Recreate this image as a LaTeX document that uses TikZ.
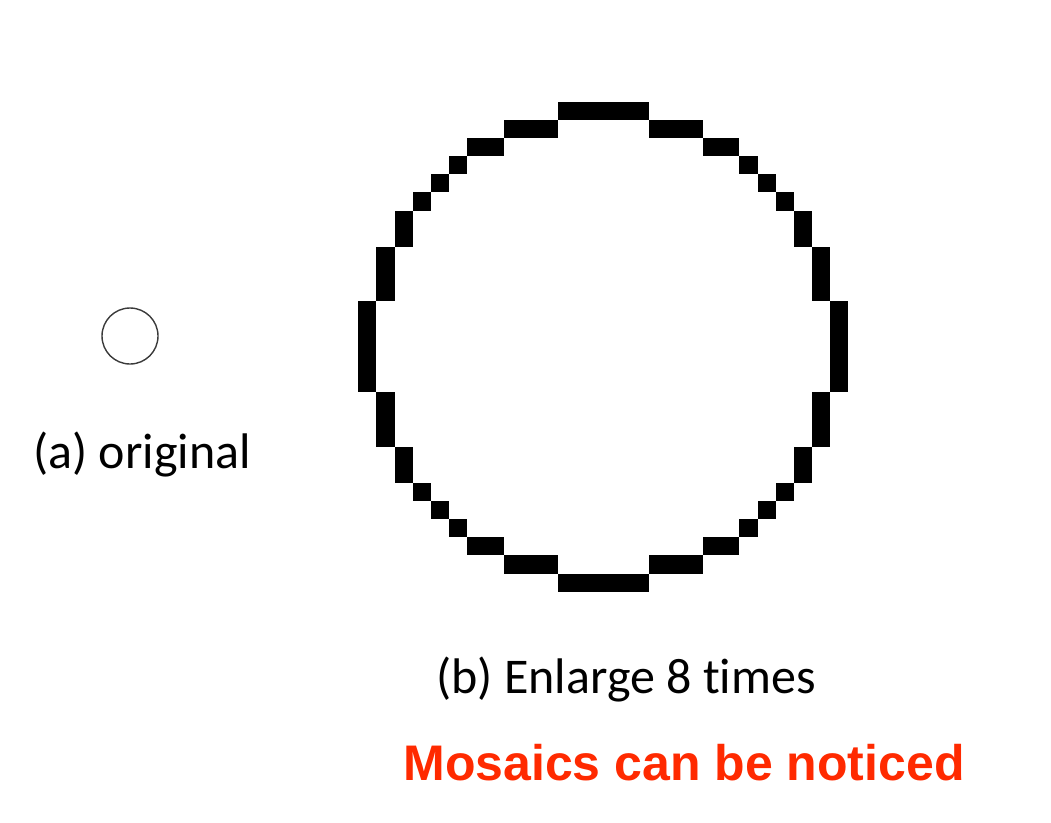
\documentclass[tikz,border=0pt]{standalone}
\usepackage{fontspec}
\setmainfont{Carlito}[Ligatures=NoCommon]
\newfontfamily\arialfont{Liberation Sans}
\usepackage{xcolor}
\definecolor{mosRed}{HTML}{FF2A00}
\definecolor{ringGray}{HTML}{3A3A3A}

\begin{document}
\begin{tikzpicture}[x=1pt,y=-1pt]
\useasboundingbox (0,0) rectangle (1051,822);
\fill[white] (0,0) rectangle (1051,822);
\def\fs{\fontsize{50}{60}\selectfont}
% original circle
\draw[ringGray,line width=1.4pt] (130,336) circle[radius=28];
\node[font=\fs,anchor=base,inner sep=0pt] (orig) at (142,468) {(a) original};
% enlarged circle: quadrant cells, mirrored
\begin{scope}[shift={(358.3,101.7)},x=18.15pt,y=-18.15pt]
\foreach \ca/\cb/\ra/\rb in {11/13/0/0,8/10/1/1,6/7/2/2,5/5/3/3,4/4/4/4,3/3/5/5,2/2/6/7,1/1/8/10,0/0/11/13}{
  \fill (\ca,\ra) rectangle (\cb+1,\rb+1);
  \fill (27-\ca,\ra) rectangle (26-\cb,\rb+1);
  \fill (\ca,27-\ra) rectangle (\cb+1,26-\rb);
  \fill (27-\ca,27-\ra) rectangle (26-\cb,26-\rb);
}
\end{scope}
\node[font=\fs,anchor=base,inner sep=0pt] (enl) at (626,693) {(b) Enlarge 8 times};
\node[font=\fs\arialfont\bfseries,text=mosRed,anchor=base,inner sep=0pt] (note) at (684,780) {Mosaics can be noticed};
\end{tikzpicture}
\end{document}
